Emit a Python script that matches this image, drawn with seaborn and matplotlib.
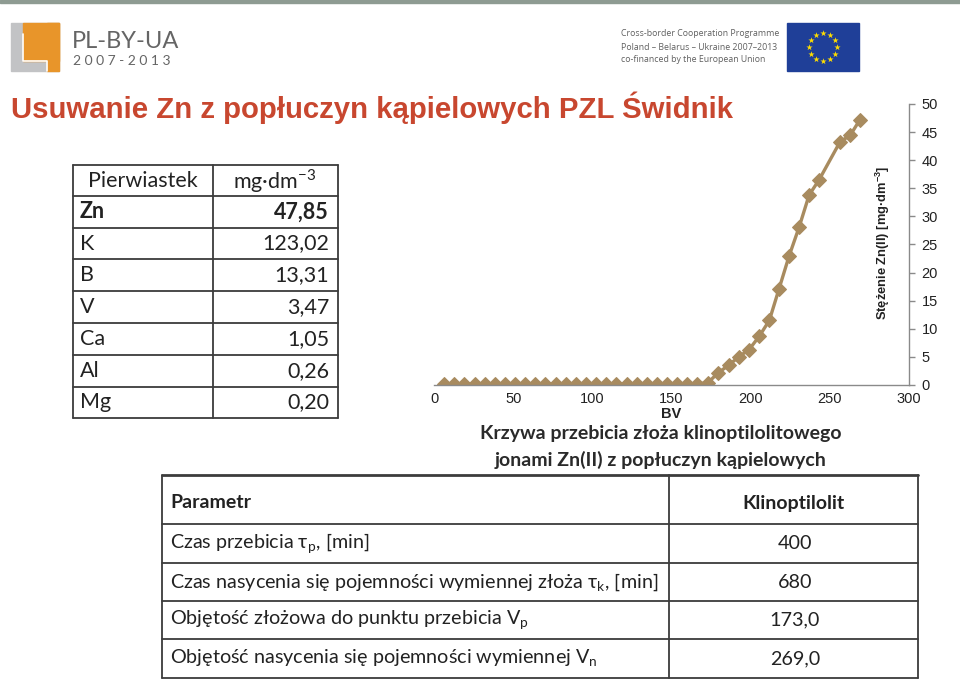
import numpy as np
import pandas as pd
import seaborn as sns
import matplotlib.pyplot as plt
from matplotlib.patches import Rectangle

# breakthrough curve
bv = [6.4, 12.8, 19.2, 25.6, 32.0, 38.4, 44.8, 51.2, 57.6, 64.0, 70.4, 76.8, 83.2,
      89.6, 96.0, 102.4, 108.8, 115.2, 121.6, 128.0, 134.4, 140.8, 147.2, 153.6,
      160.0, 166.4, 173.0, 179.6, 186.1, 192.4, 199.0, 205.5, 211.8, 217.9, 224.2,
      230.6, 236.9, 243.2, 256.5, 262.8, 269.0]
zn = [0.2, 0.2, 0.2, 0.2, 0.2, 0.2, 0.2, 0.2, 0.2, 0.2, 0.2, 0.2, 0.2,
      0.2, 0.2, 0.2, 0.2, 0.2, 0.2, 0.2, 0.2, 0.2, 0.2, 0.2,
      0.2, 0.2, 0.4, 2.2, 3.5, 5.0, 6.3, 8.7, 11.5, 17.1, 22.9,
      28.1, 33.8, 36.5, 43.3, 44.4, 47.2]

elements = ['Zn', 'K', 'B', 'V', 'Ca', 'Al', 'Mg']
conc = ['47,85', '123,02', '13,31', '3,47', '1,05', '0,26', '0,20']

params = ['Czas przebicia τ$_\\mathregular{p}$, [min]',
          'Czas nasycenia się pojemności wymiennej złoża τ$_\\mathregular{k}$, [min]',
          'Objętość złożowa do punktu przebicia V$_\\mathregular{p}$',
          'Objętość nasycenia się pojemności wymiennej V$_\\mathregular{n}$']
param_vals = ['400', '680', '173,0', '269,0']

sns.set_theme(style='white')
plt.rcParams['font.family'] = ['Liberation Sans', 'DejaVu Sans']
plt.rcParams['mathtext.fontset'] = 'custom'

red = '#c8472f'
tan = '#a88b5f'
line_c = '#3c3c3c'
body = 'Lato'

fig = plt.figure(figsize=(9.6, 6.81), dpi=100)

# page overlay in pixel coordinates
bg = fig.add_axes([0, 0, 1, 1], zorder=0)
bg.set_xlim(0, 960)
bg.set_ylim(681, 0)
bg.axis('off')

bg.add_patch(Rectangle((0, 0), 960, 3, color='#8e9b92'))

# PL-BY-UA logo
bg.add_patch(Rectangle((11, 23), 48, 48, color='#c2c3c5'))
bg.add_patch(Rectangle((23, 23), 36, 38, color='#e8952a'))
bg.add_patch(Rectangle((47, 23), 12, 48, color='#e8952a'))
bg.plot([23, 23, 47, 47], [34, 61, 61, 71], color='white', lw=1.2)
bg.text(72, 41, 'PL-BY-UA', fontsize=17, color='#656565', family='Lato',
        va='center', ha='left')
bg.text(73, 61, '2 0 0 7 - 2 0 1 3', fontsize=10, color='#656565', family='Lato',
        va='center', ha='left')

# programme text + EU flag
for i, s in enumerate(['Cross-border Cooperation Programme',
                       'Poland – Belarus – Ukraine 2007–2013',
                       'co-financed by the European Union']):
    bg.text(621, 34 + i * 13, s, fontsize=6.3, color='#606060', family='Open Sans',
            va='center', ha='left')
bg.add_patch(Rectangle((787, 23), 72, 48, color='#1f3f98'))
ang = np.linspace(0, 2 * np.pi, 13)[:-1]
bg.scatter(823 + 14 * np.cos(ang), 47 + 14 * np.sin(ang), marker='*', s=22,
           color='#ffdd00', linewidths=0)

# title
bg.text(11, 108, 'Usuwanie Zn z popłuczyn kąpielowych PZL Świdnik', fontsize=21.2,
        fontweight='bold', color=red, va='center', ha='left')

# element table
tx = [73, 213, 338]
ty = [165, 196, 228, 259, 291, 323, 355, 387, 418]
for y in ty:
    bg.plot([tx[0], tx[2]], [y, y], color=line_c, lw=1.3)
for x in tx:
    bg.plot([x, x], [ty[0], ty[-1]], color=line_c, lw=1.3)
bg.text(143, 181, 'Pierwiastek', family=body, fontsize=15.5, color='#222222',
        ha='center', va='center')
bg.text(275, 181, 'mg·dm$^{\\mathregular{-3}}$', family=body, fontsize=15.5,
        color='#222222', ha='center', va='center')
for i, (el, c) in enumerate(zip(elements, conc)):
    yc = (ty[i + 1] + ty[i + 2]) / 2
    w = 'bold' if el == 'Zn' else 'normal'
    bg.text(80, yc, el, family=body, fontsize=15.5, fontweight=w, color='#222222',
            ha='left', va='center')
    bg.text(329, yc, c, family=body, fontsize=15.5, fontweight=w, color='#222222',
            ha='right', va='center')

# caption
bg.text(661, 434, 'Krzywa przebicia złoża klinoptilolitowego', family=body,
        fontsize=14, fontweight='bold', color='#2a2a2a', ha='center', va='center')
bg.text(661, 460, 'jonami Zn(II) z popłuczyn kąpielowych', family=body,
        fontsize=14, fontweight='bold', color='#2a2a2a', ha='center', va='center')

# parameter table
px = [162, 669, 918]
py = [475, 524, 563, 601, 639, 678]
for j, y in enumerate(py):
    bg.plot([px[0], px[2]], [y, y], color=line_c, lw=2 if j == 0 else 1.3)
for x in px:
    bg.plot([x, x], [py[0], py[-1]], color=line_c, lw=1.3)
bg.text(170, 503, 'Parametr', family=body, fontsize=14, fontweight='bold',
        color='#222222', ha='left', va='center')
bg.text(793, 503, 'Klinoptilolit', family=body, fontsize=14, fontweight='bold',
        color='#222222', ha='center', va='center')
for i, (p, v) in enumerate(zip(params, param_vals)):
    yc = (py[i + 1] + py[i + 2]) / 2
    bg.text(170, yc, p, family=body, fontsize=14.2, color='#222222',
            ha='left', va='center')
    bg.text(795, yc, v, family=body, fontsize=14.2, color='#222222',
            ha='center', va='center')

# chart
ax = fig.add_axes([0.4521, 0.4347, 0.4948, 0.4126], zorder=1)
ax.set_facecolor('none')
df = pd.DataFrame({'BV': bv, 'Zn': zn})
sns.lineplot(data=df, x='BV', y='Zn', ax=ax, color=tan, marker='D', markersize=7.5,
             markeredgecolor=tan, linewidth=2.4)
ax.set_xlim(0, 300)
ax.set_ylim(0, 50)
ax.set_xticks(range(0, 301, 50))
ax.set_yticks(range(0, 51, 5))
ax.yaxis.tick_right()
for s in ['left', 'top']:
    ax.spines[s].set_visible(False)
for s in ['right', 'bottom']:
    ax.spines[s].set_color('#8a8a8a')
    ax.spines[s].set_linewidth(1)
ax.tick_params(axis='x', length=0, labelsize=10.5, labelcolor='#222222', pad=5)
ax.tick_params(axis='y', right=True, length=4, width=1, color='#8a8a8a',
               labelsize=10.5, labelcolor='#222222', pad=5)
ax.set_xlabel('BV', fontsize=10.5, fontweight='bold', labelpad=1, color='#222222')
ax.set_ylabel('')
ax.text(0.945, 0.505, 'Stężenie Zn(II) [mg·dm$^{\\mathregular{-3}}$]', transform=ax.transAxes,
        rotation=90, fontsize=9.3, fontweight='bold', color='#222222',
        ha='center', va='center')

fig.savefig('out.png', dpi=100)
